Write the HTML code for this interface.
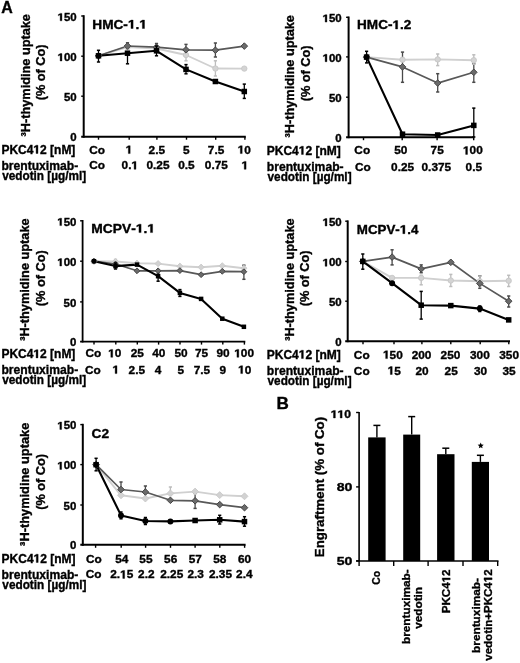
<!DOCTYPE html>
<html><head><meta charset="utf-8"><style>
html,body{margin:0;padding:0;background:#fff;}
svg{display:block;will-change:transform;}
text{font-family:"Liberation Sans",sans-serif;font-weight:bold;stroke:#000;stroke-width:0.35px;font-kerning:none;}
path{vector-effect:non-scaling-stroke;stroke:#000;stroke-width:0.35px;}
</style></head><body>
<svg width="520" height="663" viewBox="0 0 520 663">
<rect width="520" height="663" fill="#fff"/>
<text x="1.30" y="13.30" font-size="16.5" textLength="11.52" lengthAdjust="spacingAndGlyphs">A</text>
<line x1="83.70" y1="15.20" x2="83.70" y2="137.70" stroke="#000" stroke-width="2.0" stroke-linecap="butt"/>
<line x1="81.20" y1="16.00" x2="83.70" y2="16.00" stroke="#000" stroke-width="1.4" stroke-linecap="butt"/>
<line x1="81.20" y1="56.20" x2="83.70" y2="56.20" stroke="#000" stroke-width="1.4" stroke-linecap="butt"/>
<line x1="81.20" y1="96.20" x2="83.70" y2="96.20" stroke="#000" stroke-width="1.4" stroke-linecap="butt"/>
<line x1="81.20" y1="136.70" x2="245.80" y2="136.70" stroke="#000" stroke-width="2.0" stroke-linecap="butt"/>
<line x1="98.50" y1="136.70" x2="98.50" y2="139.70" stroke="#000" stroke-width="1.4" stroke-linecap="butt"/>
<line x1="129.20" y1="136.70" x2="129.20" y2="139.70" stroke="#000" stroke-width="1.4" stroke-linecap="butt"/>
<line x1="156.90" y1="136.70" x2="156.90" y2="139.70" stroke="#000" stroke-width="1.4" stroke-linecap="butt"/>
<line x1="186.50" y1="136.70" x2="186.50" y2="139.70" stroke="#000" stroke-width="1.4" stroke-linecap="butt"/>
<line x1="215.70" y1="136.70" x2="215.70" y2="139.70" stroke="#000" stroke-width="1.4" stroke-linecap="butt"/>
<line x1="244.90" y1="136.70" x2="244.90" y2="139.70" stroke="#000" stroke-width="1.4" stroke-linecap="butt"/>
<text x="57.57" y="20.82" font-size="10.8" textLength="19.10" lengthAdjust="spacingAndGlyphs"> 50</text>
<path transform="translate(57.57,20.82) scale(0.00559,-0.00527)" d="M460,0L460,1150L130,945L130,1190L493,1409L780,1409L780,0Z"/>
<text x="57.57" y="61.02" font-size="10.8" textLength="19.10" lengthAdjust="spacingAndGlyphs"> 00</text>
<path transform="translate(57.57,61.02) scale(0.00559,-0.00527)" d="M460,0L460,1150L130,945L130,1190L493,1409L780,1409L780,0Z"/>
<text x="63.94" y="101.02" font-size="10.8" textLength="12.73" lengthAdjust="spacingAndGlyphs">50</text>
<text x="70.30" y="141.42" font-size="10.8" textLength="6.37" lengthAdjust="spacingAndGlyphs">0</text>
<text x="92.29" y="28.50" font-size="12.2" textLength="54.61" lengthAdjust="spacingAndGlyphs">HMC- . </text>
<path transform="translate(127.92,28.50) scale(0.00666,-0.00596)" d="M460,0L460,1150L130,945L130,1190L493,1409L780,1409L780,0Z"/>
<path transform="translate(139.30,28.50) scale(0.00666,-0.00596)" d="M460,0L460,1150L130,945L130,1190L493,1409L780,1409L780,0Z"/>
<text transform="translate(29.50,0) rotate(-90)" x="-136.47" y="0.00" font-size="12.9" textLength="122.41" lengthAdjust="spacingAndGlyphs">³H-thymidine uptake</text>
<text transform="translate(44.90,0) rotate(-90)" x="-100.33" y="0.00" font-size="12.9" textLength="55.77" lengthAdjust="spacingAndGlyphs">(% of Co)</text>
<text x="1.40" y="153.50" font-size="12" textLength="73.98" lengthAdjust="spacingAndGlyphs">PKC4 2 [nM]</text>
<path transform="translate(33.39,153.50) scale(0.00586,-0.00586)" d="M460,0L460,1150L130,945L130,1190L493,1409L780,1409L780,0Z"/>
<text x="1.40" y="169.90" font-size="12" textLength="76.78" lengthAdjust="spacingAndGlyphs">brentuximab-</text>
<text x="2.15" y="179.90" font-size="12" textLength="84.01" lengthAdjust="spacingAndGlyphs">vedotin [µg/ml]</text>
<text x="89.19" y="153.60" font-size="11.5" textLength="15.79" lengthAdjust="spacingAndGlyphs">Co</text>
<text x="125.67" y="153.60" font-size="11.5" textLength="6.59" lengthAdjust="spacingAndGlyphs"> </text>
<path transform="translate(125.67,153.60) scale(0.00578,-0.00562)" d="M460,0L460,1150L130,945L130,1190L493,1409L780,1409L780,0Z"/>
<text x="148.63" y="153.60" font-size="11.5" textLength="16.47" lengthAdjust="spacingAndGlyphs">2.5</text>
<text x="183.09" y="153.60" font-size="11.5" textLength="6.59" lengthAdjust="spacingAndGlyphs">5</text>
<text x="207.88" y="153.60" font-size="11.5" textLength="16.47" lengthAdjust="spacingAndGlyphs">7.5</text>
<text x="237.68" y="153.60" font-size="11.5" textLength="13.18" lengthAdjust="spacingAndGlyphs"> 0</text>
<path transform="translate(237.68,153.60) scale(0.00578,-0.00562)" d="M460,0L460,1150L130,945L130,1190L493,1409L780,1409L780,0Z"/>
<text x="89.19" y="169.30" font-size="11.5" textLength="15.79" lengthAdjust="spacingAndGlyphs">Co</text>
<text x="121.57" y="169.30" font-size="11.5" textLength="16.47" lengthAdjust="spacingAndGlyphs">0. </text>
<path transform="translate(131.45,169.30) scale(0.00578,-0.00562)" d="M460,0L460,1150L130,945L130,1190L493,1409L780,1409L780,0Z"/>
<text x="146.50" y="169.30" font-size="11.5" textLength="23.05" lengthAdjust="spacingAndGlyphs">0.25</text>
<text x="178.20" y="169.30" font-size="11.5" textLength="16.47" lengthAdjust="spacingAndGlyphs">0.5</text>
<text x="204.80" y="169.30" font-size="11.5" textLength="23.05" lengthAdjust="spacingAndGlyphs">0.75</text>
<text x="241.57" y="169.30" font-size="11.5" textLength="6.59" lengthAdjust="spacingAndGlyphs"> </text>
<path transform="translate(241.57,169.30) scale(0.00578,-0.00562)" d="M460,0L460,1150L130,945L130,1190L493,1409L780,1409L780,0Z"/>
<polyline points="98.50,55.80 127.50,47.00 156.50,48.50 186.00,55.00 215.40,68.50 244.30,68.60" fill="none" stroke="#d0d0d0" stroke-width="1.9" stroke-linejoin="round"/>
<polyline points="98.50,55.80 127.50,46.00 156.50,47.20 186.00,49.80 215.40,50.20 244.30,46.10" fill="none" stroke="#585858" stroke-width="1.7" stroke-linejoin="round"/>
<polyline points="98.50,55.80 127.50,53.20 156.50,50.80 186.00,69.40 215.40,81.50 244.30,91.50" fill="none" stroke="#000" stroke-width="2.1" stroke-linejoin="round"/>
<line x1="127.50" y1="42.80" x2="127.50" y2="49.20" stroke="#4a4a4a" stroke-width="1.3" stroke-linecap="butt"/>
<line x1="125.90" y1="42.80" x2="129.10" y2="42.80" stroke="#4a4a4a" stroke-width="1.5" stroke-linecap="butt"/>
<line x1="125.90" y1="49.20" x2="129.10" y2="49.20" stroke="#4a4a4a" stroke-width="1.5" stroke-linecap="butt"/>
<line x1="156.50" y1="43.50" x2="156.50" y2="51.00" stroke="#4a4a4a" stroke-width="1.3" stroke-linecap="butt"/>
<line x1="154.90" y1="43.50" x2="158.10" y2="43.50" stroke="#4a4a4a" stroke-width="1.5" stroke-linecap="butt"/>
<line x1="154.90" y1="51.00" x2="158.10" y2="51.00" stroke="#4a4a4a" stroke-width="1.5" stroke-linecap="butt"/>
<line x1="186.00" y1="44.40" x2="186.00" y2="56.00" stroke="#4a4a4a" stroke-width="1.3" stroke-linecap="butt"/>
<line x1="184.40" y1="44.40" x2="187.60" y2="44.40" stroke="#4a4a4a" stroke-width="1.5" stroke-linecap="butt"/>
<line x1="184.40" y1="56.00" x2="187.60" y2="56.00" stroke="#4a4a4a" stroke-width="1.5" stroke-linecap="butt"/>
<line x1="215.40" y1="43.00" x2="215.40" y2="57.00" stroke="#4a4a4a" stroke-width="1.3" stroke-linecap="butt"/>
<line x1="213.80" y1="43.00" x2="217.00" y2="43.00" stroke="#4a4a4a" stroke-width="1.5" stroke-linecap="butt"/>
<line x1="213.80" y1="57.00" x2="217.00" y2="57.00" stroke="#4a4a4a" stroke-width="1.5" stroke-linecap="butt"/>
<line x1="186.00" y1="55.00" x2="186.00" y2="60.80" stroke="#bdbdbd" stroke-width="1.3" stroke-linecap="butt"/>
<line x1="184.40" y1="55.00" x2="187.60" y2="55.00" stroke="#bdbdbd" stroke-width="1.5" stroke-linecap="butt"/>
<line x1="184.40" y1="60.80" x2="187.60" y2="60.80" stroke="#bdbdbd" stroke-width="1.5" stroke-linecap="butt"/>
<line x1="215.40" y1="60.80" x2="215.40" y2="76.00" stroke="#bdbdbd" stroke-width="1.3" stroke-linecap="butt"/>
<line x1="213.80" y1="60.80" x2="217.00" y2="60.80" stroke="#bdbdbd" stroke-width="1.5" stroke-linecap="butt"/>
<line x1="213.80" y1="76.00" x2="217.00" y2="76.00" stroke="#bdbdbd" stroke-width="1.5" stroke-linecap="butt"/>
<circle cx="98.50" cy="55.80" r="2.70" fill="#d4d4d4" stroke="#c4c4c4" stroke-width="0.8"/>
<circle cx="127.50" cy="47.00" r="2.70" fill="#d4d4d4" stroke="#c4c4c4" stroke-width="0.8"/>
<circle cx="156.50" cy="48.50" r="2.70" fill="#d4d4d4" stroke="#c4c4c4" stroke-width="0.8"/>
<circle cx="186.00" cy="55.00" r="2.70" fill="#d4d4d4" stroke="#c4c4c4" stroke-width="0.8"/>
<circle cx="215.40" cy="68.50" r="2.70" fill="#d4d4d4" stroke="#c4c4c4" stroke-width="0.8"/>
<circle cx="244.30" cy="68.60" r="2.70" fill="#d4d4d4" stroke="#c4c4c4" stroke-width="0.8"/>
<polygon points="98.50,52.50 101.80,55.80 98.50,59.10 95.20,55.80" fill="#6a6a6a" stroke="#454545" stroke-width="1.0"/>
<polygon points="127.50,42.70 130.80,46.00 127.50,49.30 124.20,46.00" fill="#6a6a6a" stroke="#454545" stroke-width="1.0"/>
<polygon points="156.50,43.90 159.80,47.20 156.50,50.50 153.20,47.20" fill="#6a6a6a" stroke="#454545" stroke-width="1.0"/>
<polygon points="186.00,46.50 189.30,49.80 186.00,53.10 182.70,49.80" fill="#6a6a6a" stroke="#454545" stroke-width="1.0"/>
<polygon points="215.40,46.90 218.70,50.20 215.40,53.50 212.10,50.20" fill="#6a6a6a" stroke="#454545" stroke-width="1.0"/>
<polygon points="244.30,42.80 247.60,46.10 244.30,49.40 241.00,46.10" fill="#6a6a6a" stroke="#454545" stroke-width="1.0"/>
<line x1="98.50" y1="50.30" x2="98.50" y2="62.00" stroke="#000" stroke-width="1.3" stroke-linecap="butt"/>
<line x1="96.90" y1="50.30" x2="100.10" y2="50.30" stroke="#000" stroke-width="1.5" stroke-linecap="butt"/>
<line x1="96.90" y1="62.00" x2="100.10" y2="62.00" stroke="#000" stroke-width="1.5" stroke-linecap="butt"/>
<line x1="127.50" y1="53.20" x2="127.50" y2="63.80" stroke="#000" stroke-width="1.3" stroke-linecap="butt"/>
<line x1="125.90" y1="53.20" x2="129.10" y2="53.20" stroke="#000" stroke-width="1.5" stroke-linecap="butt"/>
<line x1="125.90" y1="63.80" x2="129.10" y2="63.80" stroke="#000" stroke-width="1.5" stroke-linecap="butt"/>
<line x1="156.50" y1="46.00" x2="156.50" y2="55.80" stroke="#000" stroke-width="1.3" stroke-linecap="butt"/>
<line x1="154.90" y1="46.00" x2="158.10" y2="46.00" stroke="#000" stroke-width="1.5" stroke-linecap="butt"/>
<line x1="154.90" y1="55.80" x2="158.10" y2="55.80" stroke="#000" stroke-width="1.5" stroke-linecap="butt"/>
<line x1="186.00" y1="64.60" x2="186.00" y2="73.80" stroke="#000" stroke-width="1.3" stroke-linecap="butt"/>
<line x1="184.40" y1="64.60" x2="187.60" y2="64.60" stroke="#000" stroke-width="1.5" stroke-linecap="butt"/>
<line x1="184.40" y1="73.80" x2="187.60" y2="73.80" stroke="#000" stroke-width="1.5" stroke-linecap="butt"/>
<line x1="244.30" y1="84.10" x2="244.30" y2="98.40" stroke="#000" stroke-width="1.3" stroke-linecap="butt"/>
<line x1="242.70" y1="84.10" x2="245.90" y2="84.10" stroke="#000" stroke-width="1.5" stroke-linecap="butt"/>
<line x1="242.70" y1="98.40" x2="245.90" y2="98.40" stroke="#000" stroke-width="1.5" stroke-linecap="butt"/>
<rect x="95.75" y="53.05" width="5.50" height="5.50" fill="#000"/>
<rect x="124.75" y="50.45" width="5.50" height="5.50" fill="#000"/>
<rect x="153.75" y="48.05" width="5.50" height="5.50" fill="#000"/>
<rect x="183.25" y="66.65" width="5.50" height="5.50" fill="#000"/>
<rect x="212.65" y="78.75" width="5.50" height="5.50" fill="#000"/>
<rect x="241.55" y="88.75" width="5.50" height="5.50" fill="#000"/>
<line x1="348.60" y1="16.50" x2="348.60" y2="138.20" stroke="#000" stroke-width="2.0" stroke-linecap="butt"/>
<line x1="346.10" y1="17.30" x2="348.60" y2="17.30" stroke="#000" stroke-width="1.4" stroke-linecap="butt"/>
<line x1="346.10" y1="56.90" x2="348.60" y2="56.90" stroke="#000" stroke-width="1.4" stroke-linecap="butt"/>
<line x1="346.10" y1="97.20" x2="348.60" y2="97.20" stroke="#000" stroke-width="1.4" stroke-linecap="butt"/>
<line x1="346.10" y1="137.20" x2="474.40" y2="137.20" stroke="#000" stroke-width="2.0" stroke-linecap="butt"/>
<line x1="363.50" y1="137.20" x2="363.50" y2="140.20" stroke="#000" stroke-width="1.4" stroke-linecap="butt"/>
<line x1="402.20" y1="137.20" x2="402.20" y2="140.20" stroke="#000" stroke-width="1.4" stroke-linecap="butt"/>
<line x1="437.10" y1="137.20" x2="437.10" y2="140.20" stroke="#000" stroke-width="1.4" stroke-linecap="butt"/>
<line x1="473.70" y1="137.20" x2="473.70" y2="140.20" stroke="#000" stroke-width="1.4" stroke-linecap="butt"/>
<text x="322.57" y="22.12" font-size="10.8" textLength="19.10" lengthAdjust="spacingAndGlyphs"> 50</text>
<path transform="translate(322.57,22.12) scale(0.00559,-0.00527)" d="M460,0L460,1150L130,945L130,1190L493,1409L780,1409L780,0Z"/>
<text x="322.57" y="61.72" font-size="10.8" textLength="19.10" lengthAdjust="spacingAndGlyphs"> 00</text>
<path transform="translate(322.57,61.72) scale(0.00559,-0.00527)" d="M460,0L460,1150L130,945L130,1190L493,1409L780,1409L780,0Z"/>
<text x="328.94" y="102.02" font-size="10.8" textLength="12.73" lengthAdjust="spacingAndGlyphs">50</text>
<text x="335.30" y="141.52" font-size="10.8" textLength="6.37" lengthAdjust="spacingAndGlyphs">0</text>
<text x="357.09" y="29.00" font-size="12.2" textLength="54.25" lengthAdjust="spacingAndGlyphs">HMC- .2</text>
<path transform="translate(392.49,29.00) scale(0.00662,-0.00596)" d="M460,0L460,1150L130,945L130,1190L493,1409L780,1409L780,0Z"/>
<text transform="translate(294.40,0) rotate(-90)" x="-137.47" y="0.00" font-size="12.9" textLength="122.41" lengthAdjust="spacingAndGlyphs">³H-thymidine uptake</text>
<text transform="translate(309.80,0) rotate(-90)" x="-101.33" y="0.00" font-size="12.9" textLength="55.77" lengthAdjust="spacingAndGlyphs">(% of Co)</text>
<text x="266.80" y="154.50" font-size="12" textLength="73.98" lengthAdjust="spacingAndGlyphs">PKC4 2 [nM]</text>
<path transform="translate(298.79,154.50) scale(0.00586,-0.00586)" d="M460,0L460,1150L130,945L130,1190L493,1409L780,1409L780,0Z"/>
<text x="266.80" y="170.90" font-size="12" textLength="76.78" lengthAdjust="spacingAndGlyphs">brentuximab-</text>
<text x="267.55" y="180.90" font-size="12" textLength="84.01" lengthAdjust="spacingAndGlyphs">vedotin [µg/ml]</text>
<text x="354.39" y="154.40" font-size="11.5" textLength="15.79" lengthAdjust="spacingAndGlyphs">Co</text>
<text x="394.17" y="154.40" font-size="11.5" textLength="13.18" lengthAdjust="spacingAndGlyphs">50</text>
<text x="430.62" y="154.40" font-size="11.5" textLength="13.18" lengthAdjust="spacingAndGlyphs">75</text>
<text x="462.99" y="154.40" font-size="11.5" textLength="19.76" lengthAdjust="spacingAndGlyphs"> 00</text>
<path transform="translate(462.99,154.40) scale(0.00578,-0.00562)" d="M460,0L460,1150L130,945L130,1190L493,1409L780,1409L780,0Z"/>
<text x="355.09" y="170.50" font-size="11.5" textLength="15.79" lengthAdjust="spacingAndGlyphs">Co</text>
<text x="391.10" y="170.50" font-size="11.5" textLength="23.05" lengthAdjust="spacingAndGlyphs">0.25</text>
<text x="421.51" y="170.50" font-size="11.5" textLength="29.64" lengthAdjust="spacingAndGlyphs">0.375</text>
<text x="465.60" y="170.50" font-size="11.5" textLength="16.47" lengthAdjust="spacingAndGlyphs">0.5</text>
<polyline points="366.60,57.10 402.50,59.70 437.70,59.40 473.80,60.20" fill="none" stroke="#d0d0d0" stroke-width="1.9" stroke-linejoin="round"/>
<polyline points="366.60,57.10 402.50,66.90 437.70,83.10 473.80,72.30" fill="none" stroke="#585858" stroke-width="1.7" stroke-linejoin="round"/>
<polyline points="366.60,57.10 402.50,134.20 437.70,135.00 473.80,125.40" fill="none" stroke="#000" stroke-width="2.1" stroke-linejoin="round"/>
<line x1="402.50" y1="52.10" x2="402.50" y2="82.30" stroke="#4a4a4a" stroke-width="1.3" stroke-linecap="butt"/>
<line x1="400.90" y1="52.10" x2="404.10" y2="52.10" stroke="#4a4a4a" stroke-width="1.5" stroke-linecap="butt"/>
<line x1="400.90" y1="82.30" x2="404.10" y2="82.30" stroke="#4a4a4a" stroke-width="1.5" stroke-linecap="butt"/>
<line x1="437.70" y1="73.70" x2="437.70" y2="92.00" stroke="#4a4a4a" stroke-width="1.3" stroke-linecap="butt"/>
<line x1="436.10" y1="73.70" x2="439.30" y2="73.70" stroke="#4a4a4a" stroke-width="1.5" stroke-linecap="butt"/>
<line x1="436.10" y1="92.00" x2="439.30" y2="92.00" stroke="#4a4a4a" stroke-width="1.5" stroke-linecap="butt"/>
<line x1="473.80" y1="63.70" x2="473.80" y2="82.30" stroke="#4a4a4a" stroke-width="1.3" stroke-linecap="butt"/>
<line x1="472.20" y1="63.70" x2="475.40" y2="63.70" stroke="#4a4a4a" stroke-width="1.5" stroke-linecap="butt"/>
<line x1="472.20" y1="82.30" x2="475.40" y2="82.30" stroke="#4a4a4a" stroke-width="1.5" stroke-linecap="butt"/>
<line x1="437.70" y1="54.00" x2="437.70" y2="65.60" stroke="#bdbdbd" stroke-width="1.3" stroke-linecap="butt"/>
<line x1="436.10" y1="54.00" x2="439.30" y2="54.00" stroke="#bdbdbd" stroke-width="1.5" stroke-linecap="butt"/>
<line x1="436.10" y1="65.60" x2="439.30" y2="65.60" stroke="#bdbdbd" stroke-width="1.5" stroke-linecap="butt"/>
<line x1="473.80" y1="54.80" x2="473.80" y2="64.20" stroke="#bdbdbd" stroke-width="1.3" stroke-linecap="butt"/>
<line x1="472.20" y1="54.80" x2="475.40" y2="54.80" stroke="#bdbdbd" stroke-width="1.5" stroke-linecap="butt"/>
<line x1="472.20" y1="64.20" x2="475.40" y2="64.20" stroke="#bdbdbd" stroke-width="1.5" stroke-linecap="butt"/>
<circle cx="366.60" cy="57.10" r="2.70" fill="#d4d4d4" stroke="#c4c4c4" stroke-width="0.8"/>
<circle cx="402.50" cy="59.70" r="2.70" fill="#d4d4d4" stroke="#c4c4c4" stroke-width="0.8"/>
<circle cx="437.70" cy="59.40" r="2.70" fill="#d4d4d4" stroke="#c4c4c4" stroke-width="0.8"/>
<circle cx="473.80" cy="60.20" r="2.70" fill="#d4d4d4" stroke="#c4c4c4" stroke-width="0.8"/>
<polygon points="366.60,53.80 369.90,57.10 366.60,60.40 363.30,57.10" fill="#6a6a6a" stroke="#454545" stroke-width="1.0"/>
<polygon points="402.50,63.60 405.80,66.90 402.50,70.20 399.20,66.90" fill="#6a6a6a" stroke="#454545" stroke-width="1.0"/>
<polygon points="437.70,79.80 441.00,83.10 437.70,86.40 434.40,83.10" fill="#6a6a6a" stroke="#454545" stroke-width="1.0"/>
<polygon points="473.80,69.00 477.10,72.30 473.80,75.60 470.50,72.30" fill="#6a6a6a" stroke="#454545" stroke-width="1.0"/>
<line x1="366.60" y1="51.30" x2="366.60" y2="62.90" stroke="#000" stroke-width="1.3" stroke-linecap="butt"/>
<line x1="365.00" y1="51.30" x2="368.20" y2="51.30" stroke="#000" stroke-width="1.5" stroke-linecap="butt"/>
<line x1="365.00" y1="62.90" x2="368.20" y2="62.90" stroke="#000" stroke-width="1.5" stroke-linecap="butt"/>
<line x1="473.80" y1="108.10" x2="473.80" y2="137.00" stroke="#000" stroke-width="1.3" stroke-linecap="butt"/>
<line x1="472.20" y1="108.10" x2="475.40" y2="108.10" stroke="#000" stroke-width="1.5" stroke-linecap="butt"/>
<line x1="472.20" y1="137.00" x2="475.40" y2="137.00" stroke="#000" stroke-width="1.5" stroke-linecap="butt"/>
<rect x="363.85" y="54.35" width="5.50" height="5.50" fill="#000"/>
<rect x="399.75" y="131.45" width="5.50" height="5.50" fill="#000"/>
<rect x="434.95" y="132.25" width="5.50" height="5.50" fill="#000"/>
<rect x="471.05" y="122.65" width="5.50" height="5.50" fill="#000"/>
<line x1="82.60" y1="220.00" x2="82.60" y2="342.50" stroke="#000" stroke-width="1.8" stroke-linecap="butt"/>
<line x1="80.10" y1="220.80" x2="82.60" y2="220.80" stroke="#000" stroke-width="1.4" stroke-linecap="butt"/>
<line x1="80.10" y1="261.20" x2="82.60" y2="261.20" stroke="#000" stroke-width="1.4" stroke-linecap="butt"/>
<line x1="80.10" y1="301.90" x2="82.60" y2="301.90" stroke="#000" stroke-width="1.4" stroke-linecap="butt"/>
<line x1="80.10" y1="341.60" x2="245.30" y2="341.60" stroke="#000" stroke-width="1.8" stroke-linecap="butt"/>
<line x1="94.00" y1="341.60" x2="94.00" y2="344.60" stroke="#000" stroke-width="1.4" stroke-linecap="butt"/>
<line x1="115.80" y1="341.60" x2="115.80" y2="344.60" stroke="#000" stroke-width="1.4" stroke-linecap="butt"/>
<line x1="137.30" y1="341.60" x2="137.30" y2="344.60" stroke="#000" stroke-width="1.4" stroke-linecap="butt"/>
<line x1="158.60" y1="341.60" x2="158.60" y2="344.60" stroke="#000" stroke-width="1.4" stroke-linecap="butt"/>
<line x1="180.00" y1="341.60" x2="180.00" y2="344.60" stroke="#000" stroke-width="1.4" stroke-linecap="butt"/>
<line x1="201.50" y1="341.60" x2="201.50" y2="344.60" stroke="#000" stroke-width="1.4" stroke-linecap="butt"/>
<line x1="222.80" y1="341.60" x2="222.80" y2="344.60" stroke="#000" stroke-width="1.4" stroke-linecap="butt"/>
<line x1="244.40" y1="341.60" x2="244.40" y2="344.60" stroke="#000" stroke-width="1.4" stroke-linecap="butt"/>
<text x="57.27" y="225.62" font-size="10.8" textLength="19.10" lengthAdjust="spacingAndGlyphs"> 50</text>
<path transform="translate(57.27,225.62) scale(0.00559,-0.00527)" d="M460,0L460,1150L130,945L130,1190L493,1409L780,1409L780,0Z"/>
<text x="57.27" y="266.02" font-size="10.8" textLength="19.10" lengthAdjust="spacingAndGlyphs"> 00</text>
<path transform="translate(57.27,266.02) scale(0.00559,-0.00527)" d="M460,0L460,1150L130,945L130,1190L493,1409L780,1409L780,0Z"/>
<text x="63.64" y="306.72" font-size="10.8" textLength="12.73" lengthAdjust="spacingAndGlyphs">50</text>
<text x="70.00" y="346.32" font-size="10.8" textLength="6.37" lengthAdjust="spacingAndGlyphs">0</text>
<text x="91.38" y="232.60" font-size="12.2" textLength="63.64" lengthAdjust="spacingAndGlyphs">MCPV- . </text>
<path transform="translate(135.84,232.60) scale(0.00674,-0.00596)" d="M460,0L460,1150L130,945L130,1190L493,1409L780,1409L780,0Z"/>
<path transform="translate(147.34,232.60) scale(0.00674,-0.00596)" d="M460,0L460,1150L130,945L130,1190L493,1409L780,1409L780,0Z"/>
<text transform="translate(29.20,0) rotate(-90)" x="-340.87" y="0.00" font-size="12.9" textLength="122.41" lengthAdjust="spacingAndGlyphs">³H-thymidine uptake</text>
<text transform="translate(44.60,0) rotate(-90)" x="-306.13" y="0.00" font-size="12.9" textLength="55.77" lengthAdjust="spacingAndGlyphs">(% of Co)</text>
<text x="1.40" y="357.90" font-size="12" textLength="73.98" lengthAdjust="spacingAndGlyphs">PKC4 2 [nM]</text>
<path transform="translate(33.39,357.90) scale(0.00586,-0.00586)" d="M460,0L460,1150L130,945L130,1190L493,1409L780,1409L780,0Z"/>
<text x="1.40" y="374.30" font-size="12" textLength="76.78" lengthAdjust="spacingAndGlyphs">brentuximab-</text>
<text x="2.15" y="384.30" font-size="12" textLength="84.01" lengthAdjust="spacingAndGlyphs">vedotin [µg/ml]</text>
<text x="85.49" y="357.30" font-size="11.5" textLength="15.79" lengthAdjust="spacingAndGlyphs">Co</text>
<text x="108.18" y="357.30" font-size="11.5" textLength="13.18" lengthAdjust="spacingAndGlyphs"> 0</text>
<path transform="translate(108.18,357.30) scale(0.00578,-0.00562)" d="M460,0L460,1150L130,945L130,1190L493,1409L780,1409L780,0Z"/>
<text x="130.67" y="357.30" font-size="11.5" textLength="13.18" lengthAdjust="spacingAndGlyphs">25</text>
<text x="152.17" y="357.30" font-size="11.5" textLength="13.18" lengthAdjust="spacingAndGlyphs">40</text>
<text x="174.47" y="357.30" font-size="11.5" textLength="13.18" lengthAdjust="spacingAndGlyphs">50</text>
<text x="195.02" y="357.30" font-size="11.5" textLength="13.18" lengthAdjust="spacingAndGlyphs">75</text>
<text x="216.45" y="357.30" font-size="11.5" textLength="13.18" lengthAdjust="spacingAndGlyphs">90</text>
<text x="234.29" y="357.30" font-size="11.5" textLength="19.76" lengthAdjust="spacingAndGlyphs"> 00</text>
<path transform="translate(234.29,357.30) scale(0.00578,-0.00562)" d="M460,0L460,1150L130,945L130,1190L493,1409L780,1409L780,0Z"/>
<text x="85.09" y="373.60" font-size="11.5" textLength="15.79" lengthAdjust="spacingAndGlyphs">Co</text>
<text x="112.47" y="373.60" font-size="11.5" textLength="6.59" lengthAdjust="spacingAndGlyphs"> </text>
<path transform="translate(112.47,373.60) scale(0.00578,-0.00562)" d="M460,0L460,1150L130,945L130,1190L493,1409L780,1409L780,0Z"/>
<text x="128.63" y="373.60" font-size="11.5" textLength="16.47" lengthAdjust="spacingAndGlyphs">2.5</text>
<text x="154.85" y="373.60" font-size="11.5" textLength="6.59" lengthAdjust="spacingAndGlyphs">4</text>
<text x="177.49" y="373.60" font-size="11.5" textLength="6.59" lengthAdjust="spacingAndGlyphs">5</text>
<text x="193.68" y="373.60" font-size="11.5" textLength="16.47" lengthAdjust="spacingAndGlyphs">7.5</text>
<text x="219.52" y="373.60" font-size="11.5" textLength="6.59" lengthAdjust="spacingAndGlyphs">9</text>
<text x="238.08" y="373.60" font-size="11.5" textLength="13.18" lengthAdjust="spacingAndGlyphs"> 0</text>
<path transform="translate(238.08,373.60) scale(0.00578,-0.00562)" d="M460,0L460,1150L130,945L130,1190L493,1409L780,1409L780,0Z"/>
<polyline points="94.00,261.20 115.50,261.50 137.00,263.20 158.10,263.60 179.90,266.20 201.10,267.20 222.30,265.80 243.90,268.20" fill="none" stroke="#d0d0d0" stroke-width="1.9" stroke-linejoin="round"/>
<polyline points="94.00,261.20 115.50,264.00 137.00,270.80 158.10,270.80 179.90,270.60 201.10,274.70 222.30,271.30 243.90,271.70" fill="none" stroke="#585858" stroke-width="1.7" stroke-linejoin="round"/>
<polyline points="94.00,261.20 115.50,266.10 137.00,264.60 158.10,276.20 179.90,292.90 201.10,298.90 222.30,318.70 243.90,326.80" fill="none" stroke="#000" stroke-width="2.1" stroke-linejoin="round"/>
<line x1="243.90" y1="265.20" x2="243.90" y2="279.30" stroke="#4a4a4a" stroke-width="1.3" stroke-linecap="butt"/>
<line x1="242.30" y1="265.20" x2="245.50" y2="265.20" stroke="#4a4a4a" stroke-width="1.5" stroke-linecap="butt"/>
<line x1="242.30" y1="279.30" x2="245.50" y2="279.30" stroke="#4a4a4a" stroke-width="1.5" stroke-linecap="butt"/>
<line x1="115.50" y1="259.40" x2="115.50" y2="261.50" stroke="#bdbdbd" stroke-width="1.3" stroke-linecap="butt"/>
<line x1="113.90" y1="259.40" x2="117.10" y2="259.40" stroke="#bdbdbd" stroke-width="1.5" stroke-linecap="butt"/>
<line x1="113.90" y1="261.50" x2="117.10" y2="261.50" stroke="#bdbdbd" stroke-width="1.5" stroke-linecap="butt"/>
<polygon points="94.00,258.10 97.10,261.20 94.00,264.30 90.90,261.20" fill="#d2d2d2" stroke="#c6c6c6" stroke-width="0.8"/>
<polygon points="115.50,258.40 118.60,261.50 115.50,264.60 112.40,261.50" fill="#d2d2d2" stroke="#c6c6c6" stroke-width="0.8"/>
<polygon points="137.00,260.10 140.10,263.20 137.00,266.30 133.90,263.20" fill="#d2d2d2" stroke="#c6c6c6" stroke-width="0.8"/>
<polygon points="158.10,260.50 161.20,263.60 158.10,266.70 155.00,263.60" fill="#d2d2d2" stroke="#c6c6c6" stroke-width="0.8"/>
<polygon points="179.90,263.10 183.00,266.20 179.90,269.30 176.80,266.20" fill="#d2d2d2" stroke="#c6c6c6" stroke-width="0.8"/>
<polygon points="201.10,264.10 204.20,267.20 201.10,270.30 198.00,267.20" fill="#d2d2d2" stroke="#c6c6c6" stroke-width="0.8"/>
<polygon points="222.30,262.70 225.40,265.80 222.30,268.90 219.20,265.80" fill="#d2d2d2" stroke="#c6c6c6" stroke-width="0.8"/>
<polygon points="243.90,265.10 247.00,268.20 243.90,271.30 240.80,268.20" fill="#d2d2d2" stroke="#c6c6c6" stroke-width="0.8"/>
<polygon points="94.00,258.30 96.90,261.20 94.00,264.10 91.10,261.20" fill="#6a6a6a" stroke="#454545" stroke-width="1.0"/>
<polygon points="115.50,261.10 118.40,264.00 115.50,266.90 112.60,264.00" fill="#6a6a6a" stroke="#454545" stroke-width="1.0"/>
<polygon points="137.00,267.90 139.90,270.80 137.00,273.70 134.10,270.80" fill="#6a6a6a" stroke="#454545" stroke-width="1.0"/>
<polygon points="158.10,267.90 161.00,270.80 158.10,273.70 155.20,270.80" fill="#6a6a6a" stroke="#454545" stroke-width="1.0"/>
<polygon points="179.90,267.70 182.80,270.60 179.90,273.50 177.00,270.60" fill="#6a6a6a" stroke="#454545" stroke-width="1.0"/>
<polygon points="201.10,271.80 204.00,274.70 201.10,277.60 198.20,274.70" fill="#6a6a6a" stroke="#454545" stroke-width="1.0"/>
<polygon points="222.30,268.40 225.20,271.30 222.30,274.20 219.40,271.30" fill="#6a6a6a" stroke="#454545" stroke-width="1.0"/>
<polygon points="243.90,268.80 246.80,271.70 243.90,274.60 241.00,271.70" fill="#6a6a6a" stroke="#454545" stroke-width="1.0"/>
<line x1="115.50" y1="263.00" x2="115.50" y2="269.00" stroke="#000" stroke-width="1.3" stroke-linecap="butt"/>
<line x1="113.90" y1="263.00" x2="117.10" y2="263.00" stroke="#000" stroke-width="1.5" stroke-linecap="butt"/>
<line x1="113.90" y1="269.00" x2="117.10" y2="269.00" stroke="#000" stroke-width="1.5" stroke-linecap="butt"/>
<line x1="158.10" y1="274.20" x2="158.10" y2="281.20" stroke="#000" stroke-width="1.3" stroke-linecap="butt"/>
<line x1="156.50" y1="274.20" x2="159.70" y2="274.20" stroke="#000" stroke-width="1.5" stroke-linecap="butt"/>
<line x1="156.50" y1="281.20" x2="159.70" y2="281.20" stroke="#000" stroke-width="1.5" stroke-linecap="butt"/>
<line x1="179.90" y1="289.60" x2="179.90" y2="296.40" stroke="#000" stroke-width="1.3" stroke-linecap="butt"/>
<line x1="178.30" y1="289.60" x2="181.50" y2="289.60" stroke="#000" stroke-width="1.5" stroke-linecap="butt"/>
<line x1="178.30" y1="296.40" x2="181.50" y2="296.40" stroke="#000" stroke-width="1.5" stroke-linecap="butt"/>
<rect x="91.75" y="258.95" width="4.50" height="4.50" fill="#000"/>
<rect x="113.25" y="263.85" width="4.50" height="4.50" fill="#000"/>
<rect x="134.75" y="262.35" width="4.50" height="4.50" fill="#000"/>
<rect x="155.85" y="273.95" width="4.50" height="4.50" fill="#000"/>
<rect x="177.65" y="290.65" width="4.50" height="4.50" fill="#000"/>
<rect x="198.85" y="296.65" width="4.50" height="4.50" fill="#000"/>
<rect x="220.05" y="316.45" width="4.50" height="4.50" fill="#000"/>
<rect x="241.65" y="324.55" width="4.50" height="4.50" fill="#000"/>
<line x1="347.70" y1="220.40" x2="347.70" y2="342.20" stroke="#000" stroke-width="2.0" stroke-linecap="butt"/>
<line x1="345.20" y1="221.20" x2="347.70" y2="221.20" stroke="#000" stroke-width="1.4" stroke-linecap="butt"/>
<line x1="345.20" y1="261.50" x2="347.70" y2="261.50" stroke="#000" stroke-width="1.4" stroke-linecap="butt"/>
<line x1="345.20" y1="301.20" x2="347.70" y2="301.20" stroke="#000" stroke-width="1.4" stroke-linecap="butt"/>
<line x1="345.20" y1="341.20" x2="510.00" y2="341.20" stroke="#000" stroke-width="2.0" stroke-linecap="butt"/>
<line x1="363.00" y1="341.20" x2="363.00" y2="344.20" stroke="#000" stroke-width="1.4" stroke-linecap="butt"/>
<line x1="394.00" y1="341.20" x2="394.00" y2="344.20" stroke="#000" stroke-width="1.4" stroke-linecap="butt"/>
<line x1="421.90" y1="341.20" x2="421.90" y2="344.20" stroke="#000" stroke-width="1.4" stroke-linecap="butt"/>
<line x1="450.80" y1="341.20" x2="450.80" y2="344.20" stroke="#000" stroke-width="1.4" stroke-linecap="butt"/>
<line x1="480.20" y1="341.20" x2="480.20" y2="344.20" stroke="#000" stroke-width="1.4" stroke-linecap="butt"/>
<line x1="508.80" y1="341.20" x2="508.80" y2="344.20" stroke="#000" stroke-width="1.4" stroke-linecap="butt"/>
<text x="322.57" y="226.02" font-size="10.8" textLength="19.10" lengthAdjust="spacingAndGlyphs"> 50</text>
<path transform="translate(322.57,226.02) scale(0.00559,-0.00527)" d="M460,0L460,1150L130,945L130,1190L493,1409L780,1409L780,0Z"/>
<text x="322.57" y="266.32" font-size="10.8" textLength="19.10" lengthAdjust="spacingAndGlyphs"> 00</text>
<path transform="translate(322.57,266.32) scale(0.00559,-0.00527)" d="M460,0L460,1150L130,945L130,1190L493,1409L780,1409L780,0Z"/>
<text x="328.94" y="306.02" font-size="10.8" textLength="12.73" lengthAdjust="spacingAndGlyphs">50</text>
<text x="335.30" y="345.82" font-size="10.8" textLength="6.37" lengthAdjust="spacingAndGlyphs">0</text>
<text x="356.81" y="233.70" font-size="12.2" textLength="61.56" lengthAdjust="spacingAndGlyphs">MCPV- .4</text>
<path transform="translate(399.82,233.70) scale(0.00652,-0.00596)" d="M460,0L460,1150L130,945L130,1190L493,1409L780,1409L780,0Z"/>
<text transform="translate(293.50,0) rotate(-90)" x="-340.87" y="0.00" font-size="12.9" textLength="122.41" lengthAdjust="spacingAndGlyphs">³H-thymidine uptake</text>
<text transform="translate(308.90,0) rotate(-90)" x="-306.33" y="0.00" font-size="12.9" textLength="55.77" lengthAdjust="spacingAndGlyphs">(% of Co)</text>
<text x="266.80" y="358.50" font-size="12" textLength="73.98" lengthAdjust="spacingAndGlyphs">PKC4 2 [nM]</text>
<path transform="translate(298.79,358.50) scale(0.00586,-0.00586)" d="M460,0L460,1150L130,945L130,1190L493,1409L780,1409L780,0Z"/>
<text x="266.80" y="374.90" font-size="12" textLength="76.78" lengthAdjust="spacingAndGlyphs">brentuximab-</text>
<text x="267.55" y="384.90" font-size="12" textLength="84.01" lengthAdjust="spacingAndGlyphs">vedotin [µg/ml]</text>
<text x="353.89" y="358.60" font-size="11.5" textLength="15.79" lengthAdjust="spacingAndGlyphs">Co</text>
<text x="382.99" y="358.60" font-size="11.5" textLength="19.76" lengthAdjust="spacingAndGlyphs"> 50</text>
<path transform="translate(382.99,358.60) scale(0.00578,-0.00562)" d="M460,0L460,1150L130,945L130,1190L493,1409L780,1409L780,0Z"/>
<text x="411.66" y="358.60" font-size="11.5" textLength="19.76" lengthAdjust="spacingAndGlyphs">200</text>
<text x="440.56" y="358.60" font-size="11.5" textLength="19.76" lengthAdjust="spacingAndGlyphs">250</text>
<text x="470.03" y="358.60" font-size="11.5" textLength="19.76" lengthAdjust="spacingAndGlyphs">300</text>
<text x="499.23" y="358.60" font-size="11.5" textLength="19.76" lengthAdjust="spacingAndGlyphs">350</text>
<text x="353.89" y="374.50" font-size="11.5" textLength="15.79" lengthAdjust="spacingAndGlyphs">Co</text>
<text x="387.70" y="374.50" font-size="11.5" textLength="13.18" lengthAdjust="spacingAndGlyphs"> 5</text>
<path transform="translate(387.70,374.50) scale(0.00578,-0.00562)" d="M460,0L460,1150L130,945L130,1190L493,1409L780,1409L780,0Z"/>
<text x="415.45" y="374.50" font-size="11.5" textLength="13.18" lengthAdjust="spacingAndGlyphs">20</text>
<text x="444.57" y="374.50" font-size="11.5" textLength="13.18" lengthAdjust="spacingAndGlyphs">25</text>
<text x="474.02" y="374.50" font-size="11.5" textLength="13.18" lengthAdjust="spacingAndGlyphs">30</text>
<text x="502.44" y="374.50" font-size="11.5" textLength="13.18" lengthAdjust="spacingAndGlyphs">35</text>
<polyline points="362.80,261.40 392.10,277.90 421.20,277.90 450.80,280.50 479.80,281.30 508.70,280.80" fill="none" stroke="#d0d0d0" stroke-width="1.9" stroke-linejoin="round"/>
<polyline points="362.80,261.40 392.10,257.10 421.20,268.90 450.80,262.30 479.80,283.40 508.70,301.20" fill="none" stroke="#585858" stroke-width="1.7" stroke-linejoin="round"/>
<polyline points="362.80,261.40 392.10,283.20 421.20,305.20 450.80,305.60 479.80,308.60 508.70,319.90" fill="none" stroke="#000" stroke-width="2.1" stroke-linejoin="round"/>
<line x1="392.10" y1="249.80" x2="392.10" y2="264.90" stroke="#4a4a4a" stroke-width="1.3" stroke-linecap="butt"/>
<line x1="390.50" y1="249.80" x2="393.70" y2="249.80" stroke="#4a4a4a" stroke-width="1.5" stroke-linecap="butt"/>
<line x1="390.50" y1="264.90" x2="393.70" y2="264.90" stroke="#4a4a4a" stroke-width="1.5" stroke-linecap="butt"/>
<line x1="421.20" y1="264.90" x2="421.20" y2="272.70" stroke="#4a4a4a" stroke-width="1.3" stroke-linecap="butt"/>
<line x1="419.60" y1="264.90" x2="422.80" y2="264.90" stroke="#4a4a4a" stroke-width="1.5" stroke-linecap="butt"/>
<line x1="419.60" y1="272.70" x2="422.80" y2="272.70" stroke="#4a4a4a" stroke-width="1.5" stroke-linecap="butt"/>
<line x1="479.80" y1="275.80" x2="479.80" y2="288.30" stroke="#4a4a4a" stroke-width="1.3" stroke-linecap="butt"/>
<line x1="478.20" y1="275.80" x2="481.40" y2="275.80" stroke="#4a4a4a" stroke-width="1.5" stroke-linecap="butt"/>
<line x1="478.20" y1="288.30" x2="481.40" y2="288.30" stroke="#4a4a4a" stroke-width="1.5" stroke-linecap="butt"/>
<line x1="508.70" y1="296.00" x2="508.70" y2="307.00" stroke="#4a4a4a" stroke-width="1.3" stroke-linecap="butt"/>
<line x1="507.10" y1="296.00" x2="510.30" y2="296.00" stroke="#4a4a4a" stroke-width="1.5" stroke-linecap="butt"/>
<line x1="507.10" y1="307.00" x2="510.30" y2="307.00" stroke="#4a4a4a" stroke-width="1.5" stroke-linecap="butt"/>
<line x1="421.20" y1="275.30" x2="421.20" y2="284.80" stroke="#bdbdbd" stroke-width="1.3" stroke-linecap="butt"/>
<line x1="419.60" y1="275.30" x2="422.80" y2="275.30" stroke="#bdbdbd" stroke-width="1.5" stroke-linecap="butt"/>
<line x1="419.60" y1="284.80" x2="422.80" y2="284.80" stroke="#bdbdbd" stroke-width="1.5" stroke-linecap="butt"/>
<line x1="450.80" y1="274.40" x2="450.80" y2="286.50" stroke="#bdbdbd" stroke-width="1.3" stroke-linecap="butt"/>
<line x1="449.20" y1="274.40" x2="452.40" y2="274.40" stroke="#bdbdbd" stroke-width="1.5" stroke-linecap="butt"/>
<line x1="449.20" y1="286.50" x2="452.40" y2="286.50" stroke="#bdbdbd" stroke-width="1.5" stroke-linecap="butt"/>
<line x1="479.80" y1="276.00" x2="479.80" y2="286.50" stroke="#bdbdbd" stroke-width="1.3" stroke-linecap="butt"/>
<line x1="478.20" y1="276.00" x2="481.40" y2="276.00" stroke="#bdbdbd" stroke-width="1.5" stroke-linecap="butt"/>
<line x1="478.20" y1="286.50" x2="481.40" y2="286.50" stroke="#bdbdbd" stroke-width="1.5" stroke-linecap="butt"/>
<line x1="508.70" y1="275.30" x2="508.70" y2="286.50" stroke="#bdbdbd" stroke-width="1.3" stroke-linecap="butt"/>
<line x1="507.10" y1="275.30" x2="510.30" y2="275.30" stroke="#bdbdbd" stroke-width="1.5" stroke-linecap="butt"/>
<line x1="507.10" y1="286.50" x2="510.30" y2="286.50" stroke="#bdbdbd" stroke-width="1.5" stroke-linecap="butt"/>
<circle cx="362.80" cy="261.40" r="2.70" fill="#d4d4d4" stroke="#c4c4c4" stroke-width="0.8"/>
<circle cx="392.10" cy="277.90" r="2.70" fill="#d4d4d4" stroke="#c4c4c4" stroke-width="0.8"/>
<circle cx="421.20" cy="277.90" r="2.70" fill="#d4d4d4" stroke="#c4c4c4" stroke-width="0.8"/>
<circle cx="450.80" cy="280.50" r="2.70" fill="#d4d4d4" stroke="#c4c4c4" stroke-width="0.8"/>
<circle cx="479.80" cy="281.30" r="2.70" fill="#d4d4d4" stroke="#c4c4c4" stroke-width="0.8"/>
<circle cx="508.70" cy="280.80" r="2.70" fill="#d4d4d4" stroke="#c4c4c4" stroke-width="0.8"/>
<polygon points="362.80,258.10 366.10,261.40 362.80,264.70 359.50,261.40" fill="#6a6a6a" stroke="#454545" stroke-width="1.0"/>
<polygon points="392.10,253.80 395.40,257.10 392.10,260.40 388.80,257.10" fill="#6a6a6a" stroke="#454545" stroke-width="1.0"/>
<polygon points="421.20,265.60 424.50,268.90 421.20,272.20 417.90,268.90" fill="#6a6a6a" stroke="#454545" stroke-width="1.0"/>
<polygon points="450.80,259.00 454.10,262.30 450.80,265.60 447.50,262.30" fill="#6a6a6a" stroke="#454545" stroke-width="1.0"/>
<polygon points="479.80,280.10 483.10,283.40 479.80,286.70 476.50,283.40" fill="#6a6a6a" stroke="#454545" stroke-width="1.0"/>
<polygon points="508.70,297.90 512.00,301.20 508.70,304.50 505.40,301.20" fill="#6a6a6a" stroke="#454545" stroke-width="1.0"/>
<line x1="362.80" y1="254.00" x2="362.80" y2="269.20" stroke="#000" stroke-width="1.3" stroke-linecap="butt"/>
<line x1="361.20" y1="254.00" x2="364.40" y2="254.00" stroke="#000" stroke-width="1.5" stroke-linecap="butt"/>
<line x1="361.20" y1="269.20" x2="364.40" y2="269.20" stroke="#000" stroke-width="1.5" stroke-linecap="butt"/>
<line x1="421.20" y1="291.40" x2="421.20" y2="319.10" stroke="#000" stroke-width="1.3" stroke-linecap="butt"/>
<line x1="419.60" y1="291.40" x2="422.80" y2="291.40" stroke="#000" stroke-width="1.5" stroke-linecap="butt"/>
<line x1="419.60" y1="319.10" x2="422.80" y2="319.10" stroke="#000" stroke-width="1.5" stroke-linecap="butt"/>
<line x1="479.80" y1="306.00" x2="479.80" y2="311.50" stroke="#000" stroke-width="1.3" stroke-linecap="butt"/>
<line x1="478.20" y1="306.00" x2="481.40" y2="306.00" stroke="#000" stroke-width="1.5" stroke-linecap="butt"/>
<line x1="478.20" y1="311.50" x2="481.40" y2="311.50" stroke="#000" stroke-width="1.5" stroke-linecap="butt"/>
<rect x="360.05" y="258.65" width="5.50" height="5.50" fill="#000"/>
<circle cx="392.10" cy="283.20" r="3.00" fill="#000"/>
<rect x="418.45" y="302.45" width="5.50" height="5.50" fill="#000"/>
<rect x="448.05" y="302.85" width="5.50" height="5.50" fill="#000"/>
<circle cx="479.80" cy="308.60" r="3.00" fill="#000"/>
<rect x="505.95" y="317.15" width="5.50" height="5.50" fill="#000"/>
<line x1="82.80" y1="423.80" x2="82.80" y2="545.80" stroke="#000" stroke-width="2.0" stroke-linecap="butt"/>
<line x1="80.30" y1="424.60" x2="82.80" y2="424.60" stroke="#000" stroke-width="1.4" stroke-linecap="butt"/>
<line x1="80.30" y1="464.60" x2="82.80" y2="464.60" stroke="#000" stroke-width="1.4" stroke-linecap="butt"/>
<line x1="80.30" y1="505.00" x2="82.80" y2="505.00" stroke="#000" stroke-width="1.4" stroke-linecap="butt"/>
<line x1="80.30" y1="544.80" x2="245.60" y2="544.80" stroke="#000" stroke-width="2.0" stroke-linecap="butt"/>
<line x1="95.60" y1="544.80" x2="95.60" y2="547.80" stroke="#000" stroke-width="1.4" stroke-linecap="butt"/>
<line x1="121.20" y1="544.80" x2="121.20" y2="547.80" stroke="#000" stroke-width="1.4" stroke-linecap="butt"/>
<line x1="145.60" y1="544.80" x2="145.60" y2="547.80" stroke="#000" stroke-width="1.4" stroke-linecap="butt"/>
<line x1="170.50" y1="544.80" x2="170.50" y2="547.80" stroke="#000" stroke-width="1.4" stroke-linecap="butt"/>
<line x1="195.10" y1="544.80" x2="195.10" y2="547.80" stroke="#000" stroke-width="1.4" stroke-linecap="butt"/>
<line x1="219.80" y1="544.80" x2="219.80" y2="547.80" stroke="#000" stroke-width="1.4" stroke-linecap="butt"/>
<line x1="244.60" y1="544.80" x2="244.60" y2="547.80" stroke="#000" stroke-width="1.4" stroke-linecap="butt"/>
<text x="57.27" y="429.42" font-size="10.8" textLength="19.10" lengthAdjust="spacingAndGlyphs"> 50</text>
<path transform="translate(57.27,429.42) scale(0.00559,-0.00527)" d="M460,0L460,1150L130,945L130,1190L493,1409L780,1409L780,0Z"/>
<text x="57.27" y="469.42" font-size="10.8" textLength="19.10" lengthAdjust="spacingAndGlyphs"> 00</text>
<path transform="translate(57.27,469.42) scale(0.00559,-0.00527)" d="M460,0L460,1150L130,945L130,1190L493,1409L780,1409L780,0Z"/>
<text x="63.64" y="509.82" font-size="10.8" textLength="12.73" lengthAdjust="spacingAndGlyphs">50</text>
<text x="70.00" y="549.42" font-size="10.8" textLength="6.37" lengthAdjust="spacingAndGlyphs">0</text>
<text x="91.54" y="437.80" font-size="12.6" textLength="17.51" lengthAdjust="spacingAndGlyphs">C2</text>
<text transform="translate(29.20,0) rotate(-90)" x="-545.88" y="0.00" font-size="12.9" textLength="123.21" lengthAdjust="spacingAndGlyphs">³H-thymidine uptake</text>
<text transform="translate(44.60,0) rotate(-90)" x="-509.73" y="0.00" font-size="12.9" textLength="55.77" lengthAdjust="spacingAndGlyphs">(% of Co)</text>
<text x="1.60" y="562.50" font-size="12" textLength="73.98" lengthAdjust="spacingAndGlyphs">PKC4 2 [nM]</text>
<path transform="translate(33.59,562.50) scale(0.00586,-0.00586)" d="M460,0L460,1150L130,945L130,1190L493,1409L780,1409L780,0Z"/>
<text x="1.60" y="578.90" font-size="12" textLength="76.78" lengthAdjust="spacingAndGlyphs">brentuximab-</text>
<text x="2.35" y="588.90" font-size="12" textLength="84.01" lengthAdjust="spacingAndGlyphs">vedotin [µg/ml]</text>
<text x="85.99" y="562.50" font-size="11.5" textLength="15.79" lengthAdjust="spacingAndGlyphs">Co</text>
<text x="115.26" y="562.50" font-size="11.5" textLength="13.18" lengthAdjust="spacingAndGlyphs">54</text>
<text x="139.30" y="562.50" font-size="11.5" textLength="13.18" lengthAdjust="spacingAndGlyphs">55</text>
<text x="164.14" y="562.50" font-size="11.5" textLength="13.18" lengthAdjust="spacingAndGlyphs">56</text>
<text x="188.79" y="562.50" font-size="11.5" textLength="13.18" lengthAdjust="spacingAndGlyphs">57</text>
<text x="213.21" y="562.50" font-size="11.5" textLength="13.18" lengthAdjust="spacingAndGlyphs">58</text>
<text x="237.94" y="562.50" font-size="11.5" textLength="13.18" lengthAdjust="spacingAndGlyphs">60</text>
<text x="85.79" y="578.40" font-size="11.5" textLength="15.79" lengthAdjust="spacingAndGlyphs">Co</text>
<text x="110.23" y="578.40" font-size="11.5" textLength="23.05" lengthAdjust="spacingAndGlyphs">2. 5</text>
<path transform="translate(120.11,578.40) scale(0.00578,-0.00562)" d="M460,0L460,1150L130,945L130,1190L493,1409L780,1409L780,0Z"/>
<text x="138.10" y="578.40" font-size="11.5" textLength="16.47" lengthAdjust="spacingAndGlyphs">2.2</text>
<text x="160.23" y="578.40" font-size="11.5" textLength="23.05" lengthAdjust="spacingAndGlyphs">2.25</text>
<text x="187.48" y="578.40" font-size="11.5" textLength="16.47" lengthAdjust="spacingAndGlyphs">2.3</text>
<text x="208.93" y="578.40" font-size="11.5" textLength="23.05" lengthAdjust="spacingAndGlyphs">2.35</text>
<text x="236.09" y="578.40" font-size="11.5" textLength="16.47" lengthAdjust="spacingAndGlyphs">2.4</text>
<polyline points="96.10,464.70 121.00,495.30 145.40,498.50 170.40,493.40 195.10,491.60 219.70,495.10 244.50,496.30" fill="none" stroke="#d0d0d0" stroke-width="1.9" stroke-linejoin="round"/>
<polyline points="96.10,464.70 121.00,489.50 145.40,492.00 170.40,500.30 195.10,500.80 219.70,504.60 244.50,507.70" fill="none" stroke="#585858" stroke-width="1.7" stroke-linejoin="round"/>
<polyline points="96.10,464.70 121.00,515.40 145.40,521.00 170.40,521.40 195.10,520.50 219.70,519.80 244.50,521.60" fill="none" stroke="#000" stroke-width="2.1" stroke-linejoin="round"/>
<line x1="121.00" y1="482.00" x2="121.00" y2="489.50" stroke="#4a4a4a" stroke-width="1.3" stroke-linecap="butt"/>
<line x1="119.40" y1="482.00" x2="122.60" y2="482.00" stroke="#4a4a4a" stroke-width="1.5" stroke-linecap="butt"/>
<line x1="119.40" y1="489.50" x2="122.60" y2="489.50" stroke="#4a4a4a" stroke-width="1.5" stroke-linecap="butt"/>
<line x1="145.40" y1="486.00" x2="145.40" y2="492.00" stroke="#4a4a4a" stroke-width="1.3" stroke-linecap="butt"/>
<line x1="143.80" y1="486.00" x2="147.00" y2="486.00" stroke="#4a4a4a" stroke-width="1.5" stroke-linecap="butt"/>
<line x1="143.80" y1="492.00" x2="147.00" y2="492.00" stroke="#4a4a4a" stroke-width="1.5" stroke-linecap="butt"/>
<line x1="195.10" y1="493.40" x2="195.10" y2="508.40" stroke="#4a4a4a" stroke-width="1.3" stroke-linecap="butt"/>
<line x1="193.50" y1="493.40" x2="196.70" y2="493.40" stroke="#4a4a4a" stroke-width="1.5" stroke-linecap="butt"/>
<line x1="193.50" y1="508.40" x2="196.70" y2="508.40" stroke="#4a4a4a" stroke-width="1.5" stroke-linecap="butt"/>
<line x1="170.40" y1="487.00" x2="170.40" y2="493.40" stroke="#bdbdbd" stroke-width="1.3" stroke-linecap="butt"/>
<line x1="168.80" y1="487.00" x2="172.00" y2="487.00" stroke="#bdbdbd" stroke-width="1.5" stroke-linecap="butt"/>
<line x1="168.80" y1="493.40" x2="172.00" y2="493.40" stroke="#bdbdbd" stroke-width="1.5" stroke-linecap="butt"/>
<polygon points="96.10,461.20 99.60,464.70 96.10,468.20 92.60,464.70" fill="#d2d2d2" stroke="#c6c6c6" stroke-width="0.8"/>
<polygon points="121.00,491.80 124.50,495.30 121.00,498.80 117.50,495.30" fill="#d2d2d2" stroke="#c6c6c6" stroke-width="0.8"/>
<polygon points="145.40,495.00 148.90,498.50 145.40,502.00 141.90,498.50" fill="#d2d2d2" stroke="#c6c6c6" stroke-width="0.8"/>
<polygon points="170.40,489.90 173.90,493.40 170.40,496.90 166.90,493.40" fill="#d2d2d2" stroke="#c6c6c6" stroke-width="0.8"/>
<polygon points="195.10,488.10 198.60,491.60 195.10,495.10 191.60,491.60" fill="#d2d2d2" stroke="#c6c6c6" stroke-width="0.8"/>
<polygon points="219.70,491.60 223.20,495.10 219.70,498.60 216.20,495.10" fill="#d2d2d2" stroke="#c6c6c6" stroke-width="0.8"/>
<polygon points="244.50,492.80 248.00,496.30 244.50,499.80 241.00,496.30" fill="#d2d2d2" stroke="#c6c6c6" stroke-width="0.8"/>
<polygon points="96.10,461.40 99.40,464.70 96.10,468.00 92.80,464.70" fill="#6a6a6a" stroke="#454545" stroke-width="1.0"/>
<polygon points="121.00,486.20 124.30,489.50 121.00,492.80 117.70,489.50" fill="#6a6a6a" stroke="#454545" stroke-width="1.0"/>
<polygon points="145.40,488.70 148.70,492.00 145.40,495.30 142.10,492.00" fill="#6a6a6a" stroke="#454545" stroke-width="1.0"/>
<polygon points="170.40,497.00 173.70,500.30 170.40,503.60 167.10,500.30" fill="#6a6a6a" stroke="#454545" stroke-width="1.0"/>
<polygon points="195.10,497.50 198.40,500.80 195.10,504.10 191.80,500.80" fill="#6a6a6a" stroke="#454545" stroke-width="1.0"/>
<polygon points="219.70,501.30 223.00,504.60 219.70,507.90 216.40,504.60" fill="#6a6a6a" stroke="#454545" stroke-width="1.0"/>
<polygon points="244.50,504.40 247.80,507.70 244.50,511.00 241.20,507.70" fill="#6a6a6a" stroke="#454545" stroke-width="1.0"/>
<line x1="96.10" y1="458.30" x2="96.10" y2="470.80" stroke="#000" stroke-width="1.3" stroke-linecap="butt"/>
<line x1="94.50" y1="458.30" x2="97.70" y2="458.30" stroke="#000" stroke-width="1.5" stroke-linecap="butt"/>
<line x1="94.50" y1="470.80" x2="97.70" y2="470.80" stroke="#000" stroke-width="1.5" stroke-linecap="butt"/>
<line x1="121.00" y1="512.00" x2="121.00" y2="518.80" stroke="#000" stroke-width="1.3" stroke-linecap="butt"/>
<line x1="119.40" y1="512.00" x2="122.60" y2="512.00" stroke="#000" stroke-width="1.5" stroke-linecap="butt"/>
<line x1="119.40" y1="518.80" x2="122.60" y2="518.80" stroke="#000" stroke-width="1.5" stroke-linecap="butt"/>
<line x1="145.40" y1="517.50" x2="145.40" y2="524.50" stroke="#000" stroke-width="1.3" stroke-linecap="butt"/>
<line x1="143.80" y1="517.50" x2="147.00" y2="517.50" stroke="#000" stroke-width="1.5" stroke-linecap="butt"/>
<line x1="143.80" y1="524.50" x2="147.00" y2="524.50" stroke="#000" stroke-width="1.5" stroke-linecap="butt"/>
<line x1="219.70" y1="515.30" x2="219.70" y2="524.00" stroke="#000" stroke-width="1.3" stroke-linecap="butt"/>
<line x1="218.10" y1="515.30" x2="221.30" y2="515.30" stroke="#000" stroke-width="1.5" stroke-linecap="butt"/>
<line x1="218.10" y1="524.00" x2="221.30" y2="524.00" stroke="#000" stroke-width="1.5" stroke-linecap="butt"/>
<line x1="244.50" y1="516.70" x2="244.50" y2="526.20" stroke="#000" stroke-width="1.3" stroke-linecap="butt"/>
<line x1="242.90" y1="516.70" x2="246.10" y2="516.70" stroke="#000" stroke-width="1.5" stroke-linecap="butt"/>
<line x1="242.90" y1="526.20" x2="246.10" y2="526.20" stroke="#000" stroke-width="1.5" stroke-linecap="butt"/>
<rect x="93.35" y="461.95" width="5.50" height="5.50" fill="#000"/>
<circle cx="121.00" cy="515.40" r="3.00" fill="#000"/>
<circle cx="145.40" cy="521.00" r="3.00" fill="#000"/>
<circle cx="170.40" cy="521.40" r="3.00" fill="#000"/>
<rect x="192.35" y="517.75" width="5.50" height="5.50" fill="#000"/>
<rect x="216.95" y="517.05" width="5.50" height="5.50" fill="#000"/>
<rect x="241.75" y="518.85" width="5.50" height="5.50" fill="#000"/>
<text x="276.46" y="408.80" font-size="16.0" textLength="12.32" lengthAdjust="spacingAndGlyphs">B</text>
<line x1="359.10" y1="412.00" x2="359.10" y2="561.00" stroke="#000" stroke-width="1.6" stroke-linecap="butt"/>
<line x1="356.10" y1="412.50" x2="359.10" y2="412.50" stroke="#000" stroke-width="1.4" stroke-linecap="butt"/>
<line x1="356.10" y1="486.90" x2="359.10" y2="486.90" stroke="#000" stroke-width="1.4" stroke-linecap="butt"/>
<line x1="356.10" y1="560.90" x2="359.10" y2="560.90" stroke="#000" stroke-width="1.4" stroke-linecap="butt"/>
<line x1="356.10" y1="561.00" x2="498.50" y2="561.00" stroke="#000" stroke-width="1.6" stroke-linecap="butt"/>
<line x1="359.10" y1="561.00" x2="359.10" y2="566.00" stroke="#000" stroke-width="1.4" stroke-linecap="butt"/>
<line x1="393.70" y1="561.00" x2="393.70" y2="566.00" stroke="#000" stroke-width="1.4" stroke-linecap="butt"/>
<line x1="428.10" y1="561.00" x2="428.10" y2="566.00" stroke="#000" stroke-width="1.4" stroke-linecap="butt"/>
<line x1="463.00" y1="561.00" x2="463.00" y2="566.00" stroke="#000" stroke-width="1.4" stroke-linecap="butt"/>
<line x1="497.70" y1="561.00" x2="497.70" y2="566.00" stroke="#000" stroke-width="1.4" stroke-linecap="butt"/>
<text x="330.73" y="418.00" font-size="11.0" textLength="20.27" lengthAdjust="spacingAndGlyphs">  0</text>
<path transform="translate(330.73,418.00) scale(0.00593,-0.00537)" d="M460,0L460,1150L130,945L130,1190L493,1409L780,1409L780,0Z"/>
<path transform="translate(337.49,418.00) scale(0.00593,-0.00537)" d="M460,0L460,1150L130,945L130,1190L493,1409L780,1409L780,0Z"/>
<text x="336.75" y="491.20" font-size="11.0" textLength="15.73" lengthAdjust="spacingAndGlyphs">80</text>
<text x="336.77" y="565.20" font-size="11.0" textLength="15.71" lengthAdjust="spacingAndGlyphs">50</text>
<text transform="translate(324.10,0) rotate(-90)" x="-557.19" y="0.00" font-size="13.0" textLength="140.35" lengthAdjust="spacingAndGlyphs">Engraftment (% of Co)</text>
<line x1="376.90" y1="425.40" x2="376.90" y2="437.40" stroke="#000" stroke-width="1.4" stroke-linecap="butt"/>
<line x1="373.40" y1="425.40" x2="380.40" y2="425.40" stroke="#000" stroke-width="1.5" stroke-linecap="butt"/>
<rect x="368.20" y="437.40" width="17.40" height="123.60" fill="#000"/>
<line x1="411.70" y1="416.60" x2="411.70" y2="434.60" stroke="#000" stroke-width="1.4" stroke-linecap="butt"/>
<line x1="408.20" y1="416.60" x2="415.20" y2="416.60" stroke="#000" stroke-width="1.5" stroke-linecap="butt"/>
<rect x="403.20" y="434.60" width="17.00" height="126.40" fill="#000"/>
<line x1="445.80" y1="448.20" x2="445.80" y2="454.20" stroke="#000" stroke-width="1.4" stroke-linecap="butt"/>
<line x1="442.30" y1="448.20" x2="449.30" y2="448.20" stroke="#000" stroke-width="1.5" stroke-linecap="butt"/>
<rect x="437.10" y="454.20" width="17.40" height="106.80" fill="#000"/>
<line x1="480.40" y1="455.30" x2="480.40" y2="461.90" stroke="#000" stroke-width="1.4" stroke-linecap="butt"/>
<line x1="476.90" y1="455.30" x2="483.90" y2="455.30" stroke="#000" stroke-width="1.5" stroke-linecap="butt"/>
<rect x="471.80" y="461.90" width="17.20" height="99.10" fill="#000"/>
<polygon points="480.70,442.50 481.55,444.53 483.74,444.71 482.08,446.15 482.58,448.29 480.70,447.15 478.82,448.29 479.32,446.15 477.66,444.71 479.85,444.53" fill="#000"/>
<text transform="translate(380.20,0) rotate(-90)" x="-584.63" y="0.00" font-size="11.6" textLength="13.83" lengthAdjust="spacingAndGlyphs">Co</text>
<text transform="translate(410.10,0) rotate(-90)" x="-643.98" y="0.00" font-size="11.8" textLength="74.65" lengthAdjust="spacingAndGlyphs">brentuximab-</text>
<text transform="translate(421.90,0) rotate(-90)" x="-628.85" y="0.00" font-size="11.8" textLength="41.88" lengthAdjust="spacingAndGlyphs">vedotin</text>
<text transform="translate(450.20,0) rotate(-90)" x="-613.28" y="0.00" font-size="11.6" textLength="43.84" lengthAdjust="spacingAndGlyphs">PKC4 2</text>
<g transform="translate(450.20,0) rotate(-90)"><path transform="translate(-582.34,0.00) scale(0.00566,-0.00566)" d="M460,0L460,1150L130,945L130,1190L493,1409L780,1409L780,0Z"/></g>
<text transform="translate(479.70,0) rotate(-90)" x="-652.88" y="0.00" font-size="11.8" textLength="74.75" lengthAdjust="spacingAndGlyphs">brentuximab-</text>
<text transform="translate(492.10,0) rotate(-90)" x="-660.75" y="0.00" font-size="11.8" textLength="91.31" lengthAdjust="spacingAndGlyphs">vedotin+PKC4 2</text>
<g transform="translate(492.10,0) rotate(-90)"><path transform="translate(-582.26,0.00) scale(0.00563,-0.00576)" d="M460,0L460,1150L130,945L130,1190L493,1409L780,1409L780,0Z"/></g>
</svg>
</body></html>
